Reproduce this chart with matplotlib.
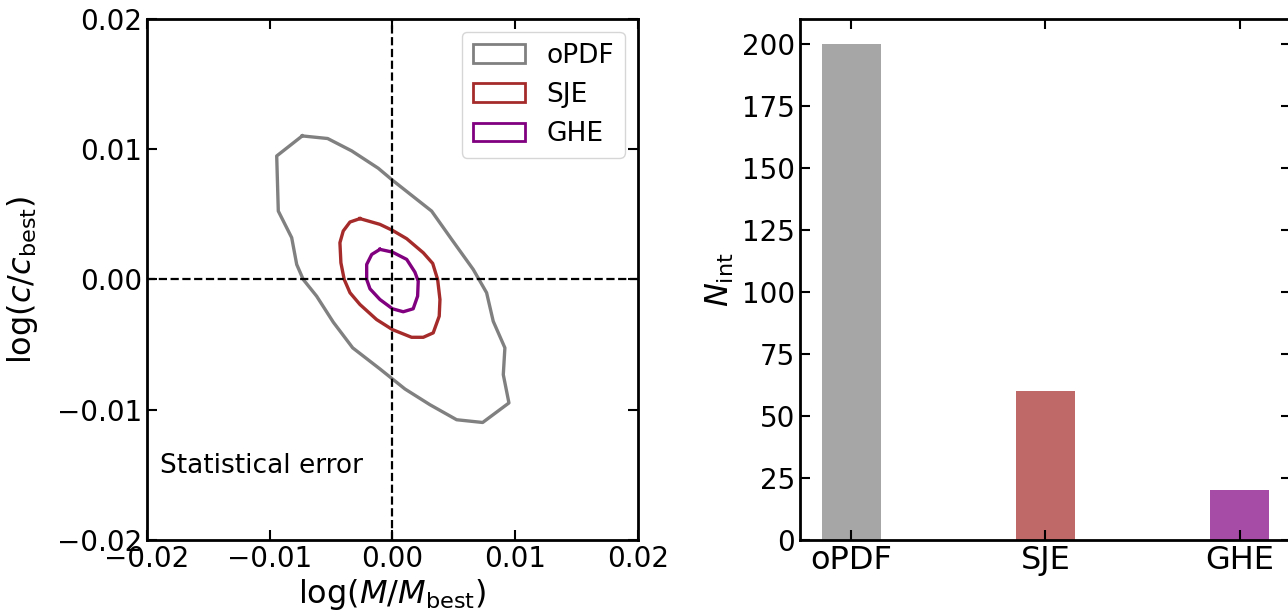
import matplotlib.pyplot as plt
from matplotlib.patches import Patch

# contour outlines (log M/M_best, log c/c_best)
opdf_x = [-0.00735, -0.00528, -0.00332, -0.00116, 0.0, 0.00319, 0.00482, 0.00658,
          0.00767, 0.00821, 0.00916, 0.00903, 0.00949, 0.00735, 0.00523, 0.00306,
          0.00102, 0.0, -0.00102, -0.00324, -0.00482, -0.00618, -0.00727, -0.00780,
          -0.00821, -0.00930, -0.00943, -0.00735]
opdf_y = [0.01102, 0.01082, 0.00987, 0.00854, 0.00762, 0.00525, 0.00308, 0.00077,
          -0.00102, -0.00321, -0.00525, -0.00731, -0.00948, -0.01098, -0.01077, -0.00962,
          -0.00841, -0.00764, -0.00687, -0.00525, -0.00328, -0.00128, 0.0, 0.00115,
          0.00321, 0.00525, 0.00948, 0.01102]

sje_x = [-0.00265, -0.00102, 0.0, 0.00116, 0.00251, 0.00328, 0.00368, 0.00387,
         0.00381, 0.00332, 0.00251, 0.00156, 0.0, -0.00129, -0.00265, -0.00346,
         -0.00393, -0.00420, -0.00428, -0.00401, -0.00346, -0.00265]
sje_y = [0.00467, 0.00423, 0.00377, 0.00313, 0.00205, 0.00123, 0.0, -0.00154,
         -0.00282, -0.00410, -0.00444, -0.00444, -0.00385, -0.00308, -0.00192, -0.00102,
         0.0, 0.00128, 0.00282, 0.00372, 0.00441, 0.00467]

ghe_x = [-0.00102, 0.0, 0.00116, 0.00183, 0.00210, 0.00205, 0.00169, 0.00088,
         0.0, -0.00102, -0.00183, -0.00210, -0.00210, -0.00169, -0.00102]
ghe_y = [0.00231, 0.00210, 0.00154, 0.00056, -0.00013, -0.00128, -0.00225, -0.00248,
         -0.00225, -0.00154, -0.00072, 0.0, 0.00115, 0.00192, 0.00231]

methods = ["oPDF", "SJE", "GHE"]
n_int = [200, 60, 20]
colors = ["gray", "brown", "purple"]

fig = plt.figure(figsize=(12.88, 6.15), dpi=100)
ax1 = fig.add_axes([0.1141, 0.1220, 0.3812, 0.8472])
ax2 = fig.add_axes([0.6211, 0.1220, 0.3812, 0.8472])

for ax in (ax1, ax2):
    for s in ax.spines.values():
        s.set_linewidth(2)
    ax.tick_params(direction="in", top=True, right=True, length=7, width=1.5,
                   labelsize=20)

# left: statistical error contours
for xs, ys, c in zip([opdf_x, sje_x, ghe_x], [opdf_y, sje_y, ghe_y], colors):
    ax1.plot(xs, ys, color=c, lw=2.4)
ax1.axhline(0, color="k", ls="--", lw=1.6)
ax1.axvline(0, color="k", ls="--", lw=1.6)
ax1.set_xlim(-0.02, 0.02)
ax1.set_ylim(-0.02, 0.02)
ax1.set_xticks([-0.02, -0.01, 0.0, 0.01, 0.02])
ax1.set_yticks([-0.02, -0.01, 0.0, 0.01, 0.02])
ax1.set_xlabel(r"$\log(M/M_{\rm best})$", fontsize=23, labelpad=3)
ax1.set_ylabel(r"$\log(c/c_{\rm best})$", fontsize=23, labelpad=12)
ax1.text(0.026, 0.142, "Statistical error", transform=ax1.transAxes,
         fontsize=19, va="center")
handles = [Patch(facecolor="none", edgecolor=c, lw=2, label=m)
           for m, c in zip(methods, colors)]
ax1.legend(handles=handles, loc="upper right", fontsize=19)

# right: number of intervals
ax2.bar(range(len(methods)), n_int, width=0.3, color=colors, alpha=0.7)
ax2.set_xticks(range(len(methods)))
ax2.set_xticklabels(methods, fontsize=23)
ax2.set_ylabel(r"$N_{\rm int}$", fontsize=23)

fig.savefig("out.png", dpi=100)
